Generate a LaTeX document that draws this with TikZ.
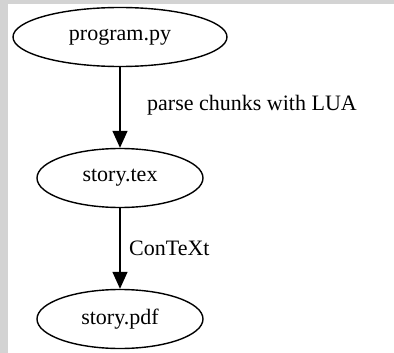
\documentclass[tikz,border=0pt]{standalone}
\usepackage{fontspec}
\setmainfont{Liberation Serif}
\usetikzlibrary{shapes.geometric,arrows.meta}
\definecolor{framegray}{HTML}{D3D3D3}
\begin{document}
\begin{tikzpicture}[x=1pt,y=-1pt,
    file/.style={draw,ellipse,line width=1.4pt,inner sep=0pt,minimum height=59pt,
        font=\fontsize{22}{26}\selectfont},
    flow/.style={line width=1.4pt,-{Triangle[length=17pt,width=15pt]}},
    lbl/.style={font=\fontsize{22}{26}\selectfont,inner sep=0pt,anchor=west}]
    % background and frame
    \fill[framegray] (0,0) rectangle (394,353);
    \fill[white] (8,4) rectangle (394,353);
    \useasboundingbox (0,0) rectangle (394,353);

    \node[file,minimum width=214pt] (prog) at (120,37) {program.py};
    \node[file,minimum width=166pt] (tex) at (120,178) {story.tex};
    \node[file,minimum width=166pt] (pdf) at (120,319) {story.pdf};

    \draw[flow] (prog) -- (tex);
    \draw[flow] (tex) -- (pdf);

    \node[lbl] (parse) at (147,105) {parse chunks with LUA};
    \node[lbl] (ctx) at (129,248) {ConTeXt};
\end{tikzpicture}
\end{document}
